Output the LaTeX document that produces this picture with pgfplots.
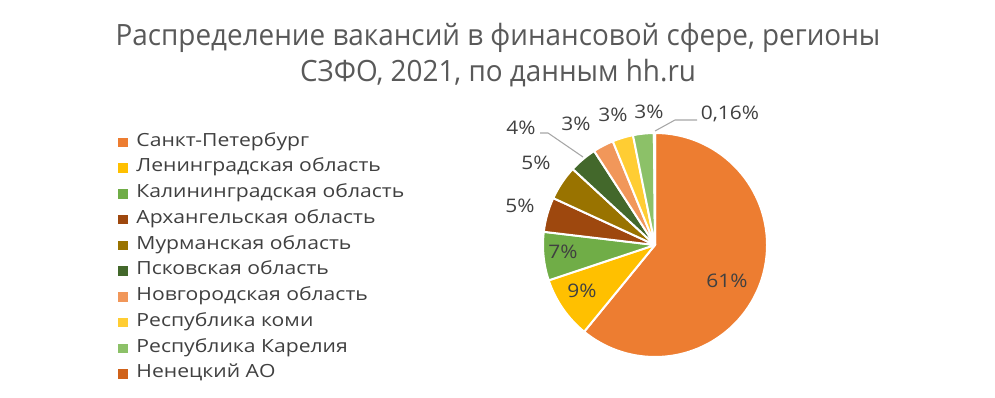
\documentclass[border=0pt]{standalone}
\usepackage{fontspec}
\setmainfont{Open Sans}
\newfontfamily\titlefont[FakeStretch=0.95]{Open Sans}
\newfontfamily\legfont[FakeStretch=1.166]{Open Sans}
\newfontfamily\labfont[FakeStretch=1.12]{Open Sans}
\usepackage{pgfplots}
\pgfplotsset{compat=1.18}
\definecolor{c1}{HTML}{ED7D31}
\definecolor{c2}{HTML}{FFC000}
\definecolor{c3}{HTML}{70AD47}
\definecolor{c4}{HTML}{9E480E}
\definecolor{c5}{HTML}{997300}
\definecolor{c6}{HTML}{43682B}
\definecolor{c7}{HTML}{F1975A}
\definecolor{c8}{HTML}{FFCD33}
\definecolor{c9}{HTML}{8CC168}
\definecolor{c10}{HTML}{D0621A}
\definecolor{txt}{HTML}{404040}
\definecolor{ttl}{HTML}{595959}
\definecolor{lead}{HTML}{A6A6A6}
\pgfplotsset{sqlegend/.style={legend image code/.code={\fill[##1] (0pt,-3.2pt) rectangle (6.4pt,3.2pt); \path (0pt,0pt) (13.2pt,0pt);}}}
\begin{document}
\begin{tikzpicture}
\path[use as bounding box] (0,0) rectangle (746.25pt,298.5pt);
\begin{axis}[x=0.75pt,y=0.75pt,xmin=0,xmax=995,ymin=0,ymax=398,
  scale only axis, hide axis, clip=false, anchor=origin, at={(0,0)},
  sqlegend,
  legend cell align=left,
  legend style={at={(axis description cs:0.1186,0.6633)}, anchor=north west,
    draw=none, fill=none, font=\legfont\fontsize{13.6}{15}\selectfont, text=txt,
    inner sep=0pt, row sep=7.3pt,
    nodes={inner sep=0pt, text height=9pt, text depth=3pt}},
  ]
\addlegendimage{c1}\addlegendentry{Санкт-Петербург}
\addlegendimage{c2}\addlegendentry{Ленинградская область}
\addlegendimage{c3}\addlegendentry{Калининградская область}
\addlegendimage{c4}\addlegendentry{Архангельская область}
\addlegendimage{c5}\addlegendentry{Мурманская область}
\addlegendimage{c6}\addlegendentry{Псковская область}
\addlegendimage{c7}\addlegendentry{Новгородская область}
\addlegendimage{c8}\addlegendentry{Республика коми}
\addlegendimage{c9}\addlegendentry{Республика Карелия}
\addlegendimage{c10}\addlegendentry{Ненецкий АО}
% pie: values in percent, clockwise from the top
\foreach \v/\c [evaluate=\v as \e using {\s-\v/100.16*360}, remember=\e as \s (initially 90)] in
  {61/c1, 9/c2, 7/c3, 5/c4, 5/c5, 4/c6, 3/c7, 3/c8, 3/c9, 0.16/c10}{
  \edef\temp{\noexpand\filldraw[fill=\c, draw=white, line width=1.5pt, line join=round]
    (axis cs:655,153) -- ++(\s:84pt) arc[start angle=\s, end angle=\e, radius=84pt] -- cycle;}
  \temp
}
\draw[lead, line width=0.8pt] (axis cs:540,265) -- (axis cs:548,265) -- (axis cs:583,241);
\draw[lead, line width=0.8pt] (axis cs:697,278) -- (axis cs:675,278) -- (axis cs:655,267);
\begin{scope}[every node/.style={text=txt, font=\labfont\fontsize{14}{16}\selectfont, inner sep=0pt}]
\node at (axis cs:727,117) {61\%};
\node at (axis cs:582,107) {9\%};
\node at (axis cs:563,146) {7\%};
\node at (axis cs:520,192) {5\%};
\node at (axis cs:536,235) {5\%};
\node at (axis cs:521,270) {4\%};
\node at (axis cs:576,274) {3\%};
\node at (axis cs:613,283) {3\%};
\node at (axis cs:649,286) {3\%};
\node at (axis cs:730,284) {0,16\%};
\end{scope}
\node[text=ttl, font=\titlefont\fontsize{22}{27}\selectfont, align=center, inner sep=0pt] at (axis cs:498,343) {Распределение вакансий в финансовой сфере, регионы\\СЗФО, 2021, по данным hh.ru};
\end{axis}
\end{tikzpicture}
\end{document}
